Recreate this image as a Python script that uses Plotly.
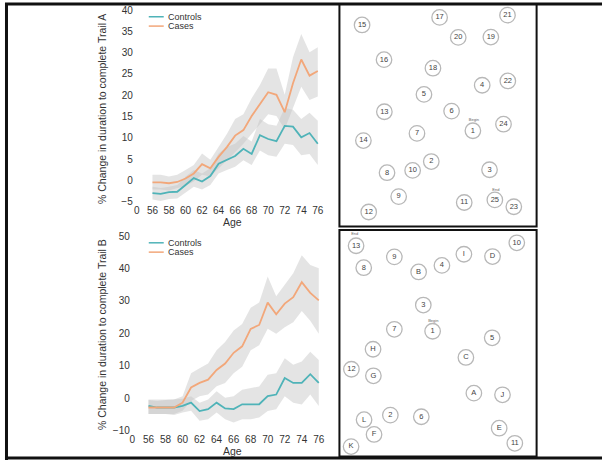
import plotly.graph_objects as go

W, H = 602, 465

ages = list(range(56, 77))
age_ticks = [54.1, 56, 58, 60, 62, 64, 66, 68, 70, 72, 74, 76]
age_ticktext = ["0", "56", "58", "60", "62", "64", "66", "68", "70", "72", "74", "76"]

# Trail A
a_cases = [-0.5, -0.5, -0.7, -0.4, 0.4, 1.6, 3.8, 2.8, 5.5, 7.8, 10.5, 11.8, 15.1, 17.8, 20.7, 20.1, 16.0, 22.8, 28.4, 24.6, 25.7]
a_cases_hi = [1.3, 1.3, 0.9, 1.3, 2.4, 3.6, 6.3, 4.8, 7.8, 10.9, 14.4, 15.5, 19.3, 22.4, 26.3, 26.3, 20.1, 28.9, 34.4, 30.1, 31.3]
a_cases_lo = [-2.2, -2.2, -2.4, -1.8, -1.3, -0.3, 1.3, 0.9, 2.8, 4.7, 6.6, 8.6, 10.9, 13.2, 15.5, 15.1, 12.0, 17.0, 22.0, 18.9, 19.7]
a_ctrl = [-3.0, -3.2, -2.8, -2.7, -1.1, 0.5, -0.3, 1.0, 3.9, 4.9, 5.7, 7.4, 6.2, 10.6, 9.7, 9.2, 12.8, 12.6, 10.1, 11.1, 8.6]
a_ctrl_hi = [-1.5, -1.8, -1.5, -1.1, 0.8, 2.4, 1.6, 2.8, 6.3, 7.8, 8.6, 10.4, 9.1, 14.4, 13.2, 12.8, 17.0, 16.6, 14.4, 15.9, 14.0]
a_ctrl_lo = [-4.5, -4.9, -4.4, -4.3, -3.0, -1.5, -2.2, -1.1, 1.6, 2.4, 3.2, 4.7, 3.6, 7.0, 5.9, 5.5, 8.6, 8.3, 5.9, 6.2, 3.6]

# Trail B
b_cases = [-2.9, -2.9, -2.9, -2.9, -1.4, 3.3, 4.7, 5.7, 8.7, 10.7, 14.0, 16.0, 21.4, 22.6, 29.5, 25.9, 29.2, 31.2, 35.8, 32.5, 30.2]
b_cases_hi = [-0.4, -0.4, -0.6, -0.4, 0.6, 7.7, 9.2, 10.7, 14.8, 17.3, 20.9, 22.9, 27.9, 29.5, 37.6, 31.5, 35.0, 38.6, 44.1, 41.1, 40.1]
b_cases_lo = [-4.9, -4.9, -4.9, -4.9, -3.9, -0.9, 0.6, 1.1, 3.7, 4.7, 7.7, 9.7, 14.8, 16.3, 21.4, 19.9, 21.9, 23.4, 26.9, 23.9, 19.9]
b_ctrl = [-2.4, -2.9, -2.9, -2.9, -2.4, -1.4, -4.0, -3.4, -1.4, -3.2, -3.4, -1.9, -1.9, -1.9, 0.6, 1.1, 6.2, 4.7, 4.7, 7.4, 4.7]
b_ctrl_hi = [-0.6, -0.9, -0.6, -0.4, -0.2, 0.6, -1.4, -0.4, 2.1, 0.1, 0.6, 2.6, 3.1, 3.6, 7.2, 7.7, 12.3, 10.3, 11.3, 14.3, 11.8]
b_ctrl_lo = [-4.9, -4.9, -4.9, -5.2, -4.4, -3.9, -7.0, -6.5, -4.4, -6.5, -7.5, -6.5, -6.5, -6.0, -4.0, -3.4, 0.6, -1.4, -2.0, 1.1, -2.4]

# Trail Making Test layouts (panel coordinates)
ta_labels = ["15", "17", "21", "20", "19", "16", "18", "4", "22", "5", "13", "6", "24", "1", "7", "14", "2", "8", "10", "3", "9", "11", "25", "23", "12"]
ta_x = [80, 313, 517, 369, 467, 146, 293, 441, 518, 266, 147, 349, 505, 413, 245, 84, 288, 155, 232, 463, 190, 387, 479, 536, 100]
ta_y = [67, 44, 37, 105, 104, 173, 199, 251, 238, 279, 332, 330, 370, 390, 398, 420, 484, 518, 511, 509, 591, 609, 601, 622, 638]
ta_notes = ["Begin", "End"]
ta_note_x = [416, 482]
ta_note_y = [358, 570]

tb_labels = ["13", "9", "8", "B", "4", "I", "D", "10", "3", "7", "1", "5", "H", "C", "12", "G", "A", "J", "2", "6", "L", "F", "E", "K", "11"]
tb_x = [62, 177, 85, 250, 320, 386, 472, 545, 264, 177, 292, 471, 113, 392, 48, 114, 416, 502, 165, 258, 86, 116, 492, 47, 539]
tb_y = [57, 91, 124, 137, 117, 83, 90, 48, 238, 312, 318, 338, 373, 398, 434, 454, 507, 512, 574, 579, 588, 633, 614, 670, 660]
tb_notes = ["End", "Begin"]
tb_note_x = [58, 294]
tb_note_y = [22, 287]

TEAL = "#4fb3b8"
ORANGE = "#f2a77a"
BAND = "rgba(195,195,195,0.45)"
FONT = "Liberation Sans, Arial, sans-serif"
TXT = "#333333"


def px(x):
    return x / W


def py(y):
    return 1 - y / H


fig = go.Figure()


def add_band(hi, lo, xa, ya):
    fig.add_trace(go.Scatter(x=ages + ages[::-1], y=hi + lo[::-1], fill="toself",
                             fillcolor=BAND, line=dict(width=0), mode="lines",
                             hoverinfo="skip", showlegend=False, xaxis=xa, yaxis=ya))


def add_line(vals, color, xa, ya):
    fig.add_trace(go.Scatter(x=ages, y=vals, mode="lines", line=dict(color=color, width=1.8),
                             showlegend=False, xaxis=xa, yaxis=ya))


add_band(a_cases_hi, a_cases_lo, "x", "y")
add_band(a_ctrl_hi, a_ctrl_lo, "x", "y")
add_line(a_ctrl, TEAL, "x", "y")
add_line(a_cases, ORANGE, "x", "y")

add_band(b_cases_hi, b_cases_lo, "x2", "y2")
add_band(b_ctrl_hi, b_ctrl_lo, "x2", "y2")
add_line(b_ctrl, TEAL, "x2", "y2")
add_line(b_cases, ORANGE, "x2", "y2")


def add_trail(labels, xs, ys, nx, ny, notes, xa, ya):
    fig.add_trace(go.Scatter(x=xs, y=ys, mode="markers+text", text=labels,
                             textposition="middle center",
                             textfont=dict(family=FONT, size=7.5, color="#444444"),
                             marker=dict(size=15.5, color="white", line=dict(color="#b8b8b8", width=1.3)),
                             showlegend=False, xaxis=xa, yaxis=ya))
    fig.add_trace(go.Scatter(x=nx, y=ny, mode="text", text=notes,
                             textfont=dict(family=FONT, size=4, color="#666666"),
                             showlegend=False, xaxis=xa, yaxis=ya))


add_trail(ta_labels, ta_x, ta_y, ta_note_x, ta_note_y, ta_notes, "x3", "y3")
add_trail(tb_labels, tb_x, tb_y, tb_note_x, tb_note_y, tb_notes, "x4", "y4")

common_x = dict(tickvals=age_ticks, ticktext=age_ticktext, showgrid=False, zeroline=False,
                showline=False, ticks="", tickfont=dict(family=FONT, size=10, color=TXT))
common_y = dict(showgrid=False, zeroline=False, showline=False, ticks="",
                tickfont=dict(family=FONT, size=10, color=TXT))
hidden = dict(visible=False, showgrid=False, zeroline=False)

fig.update_layout(
    width=W, height=H, margin=dict(l=0, r=0, t=0, b=0),
    paper_bgcolor="white", plot_bgcolor="white", showlegend=False,
    xaxis=dict(domain=[px(133), px(328)], range=[53.74, 77.29], anchor="y", **common_x),
    yaxis=dict(domain=[py(203), py(5)], range=[-5.23, 40.53], anchor="x",
               tickvals=[-5, 0, 5, 10, 15, 20, 25, 30, 35, 40], **common_y),
    xaxis2=dict(domain=[px(130), px(330)], range=[53.92, 77.37], anchor="y2", **common_x),
    yaxis2=dict(domain=[py(437), py(235)], range=[-10.61, 50.7], anchor="x2",
                tickvals=[-10, 0, 10, 20, 30, 40, 50], **common_y),
    xaxis3=dict(domain=[px(340), px(536)], range=[15, 603], anchor="y3", **hidden),
    yaxis3=dict(domain=[py(227), py(2)], range=[681, 6], anchor="x3", **hidden),
    xaxis4=dict(domain=[px(340), px(536)], range=[15, 603], anchor="y4", **hidden),
    yaxis4=dict(domain=[py(460), py(233)], range=[696, 15], anchor="x4", **hidden),
)

shapes = []
line_black = dict(color="#111111", width=3)
# outer frame
shapes.append(dict(type="line", xref="paper", yref="paper", x0=px(5.5), x1=px(5.5), y0=py(0), y1=py(465), line=line_black))
shapes.append(dict(type="line", xref="paper", yref="paper", x0=px(4), x1=px(602), y0=py(1), y1=py(1), line=line_black))
shapes.append(dict(type="line", xref="paper", yref="paper", x0=px(4), x1=px(602), y0=py(463), y1=py(463), line=line_black))
# right-hand boxes
shapes.append(dict(type="rect", xref="paper", yref="paper", x0=px(339), x1=px(536.5), y0=py(227.5), y1=py(1),
                   line=dict(color="#111111", width=2)))
shapes.append(dict(type="rect", xref="paper", yref="paper", x0=px(339), x1=px(536.5), y0=py(461.5), y1=py(231),
                   line=dict(color="#111111", width=2)))

annotations = []
# legends
for ytop in (14, 244):
    for dy, color, name in ((0, TEAL, "Controls"), (9.5, ORANGE, "Cases")):
        shapes.append(dict(type="line", xref="paper", yref="paper", x0=px(148), x1=px(163),
                           y0=py(ytop + dy), y1=py(ytop + dy), line=dict(color=color, width=1.5)))
        annotations.append(dict(xref="paper", yref="paper", x=px(166), y=py(ytop + dy), text=name,
                                showarrow=False, xanchor="left", yanchor="middle", borderpad=0,
                                font=dict(family=FONT, size=9, color=TXT)))


def title(x, y, text, angle=0):
    annotations.append(dict(xref="paper", yref="paper", x=px(x), y=py(y), text=text, showarrow=False,
                            textangle=angle, xanchor="center", yanchor="middle",
                            font=dict(family=FONT, size=10.5, color=TXT)))


title(232, 223, "Age")
title(232, 456, "Age")
title(101, 108, "% Change in duration to complete Trail A", -90)
title(101, 337, "% Change in duration to complete Trail B", -90)

fig.update_layout(shapes=shapes, annotations=annotations)
fig.write_html("out.html", config={"displayModeBar": False},
               post_script="document.body.style.margin='0px';document.body.style.overflow='hidden';")
